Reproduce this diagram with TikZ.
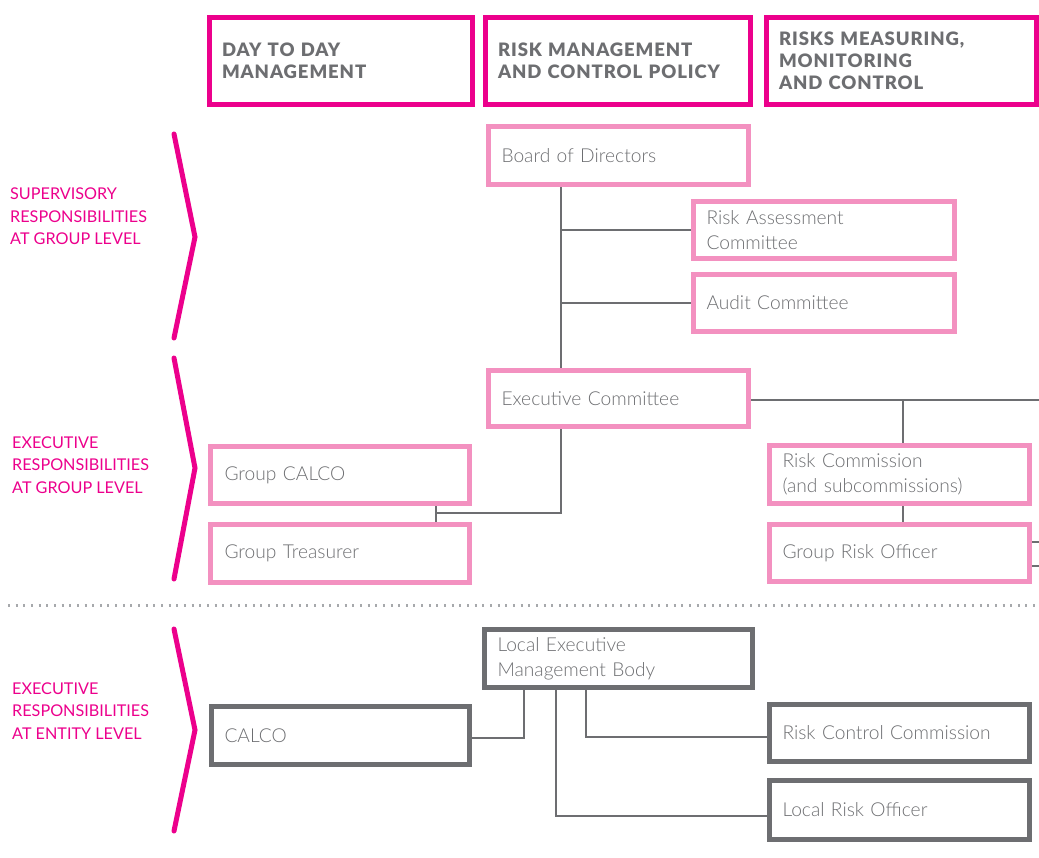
\documentclass[tikz,border=0pt]{standalone}
\usepackage{fontspec}
\setmainfont{Lato}
\newfontfamily\lightf{Lato Light}
\newfontfamily\hdrf{Lato Black}[LetterSpace=5]
\definecolor{mag}{HTML}{EC008C}
\definecolor{pinkc}{HTML}{F391C0}
\definecolor{grayc}{HTML}{6D6E71}
\definecolor{dotc}{HTML}{A7A9AC}
\tikzset{
  hdrbox/.style={draw=mag, line width=5pt, minimum height=87pt, inner xsep=12.5pt,
    align=left, text=grayc, font=\hdrf\fontsize{18.5}{22}\selectfont},
  pbox/.style={draw=pinkc, line width=5pt, inner xsep=13pt, align=left, text=grayc,
    font=\lightf\fontsize{19.2}{25}\selectfont},
  gbox/.style={draw=grayc, line width=5pt, inner xsep=13pt, align=left, text=grayc,
    font=\lightf\fontsize{19.2}{25}\selectfont},
  lvl/.style={anchor=west, align=left, text=mag, inner sep=0pt,
    font=\fontsize{16.2}{22.5}\selectfont},
  chev/.style={draw=mag, line width=5pt, line cap=round},
  conn/.style={draw=grayc, line width=2.5pt},
  connthin/.style={draw=grayc, line width=1.8pt},
}
\begin{document}
\begin{tikzpicture}[x=1pt,y=-1pt]
\useasboundingbox (0,0) rectangle (1039,857);
% headers
\node[hdrbox, minimum width=263pt, text width=238pt] (h1) at (341,61) {DAY TO DAY\\MANAGEMENT};
\node[hdrbox, minimum width=265pt, text width=240pt] (h2) at (618,61) {RISK MANAGEMENT\\AND CONTROL POLICY};
\node[hdrbox, minimum width=270pt, text width=245pt] (h3) at (901.5,61) {RISKS MEASURING,\\MONITORING\\AND CONTROL};
% level labels
\node[lvl] (l1) at (10,216.5) {SUPERVISORY\\RESPONSIBILITIES\\AT GROUP LEVEL};
\node[lvl] (l2) at (12,465) {EXECUTIVE\\RESPONSIBILITIES\\AT GROUP LEVEL};
\node[lvl] (l3) at (12,711) {EXECUTIVE\\RESPONSIBILITIES\\AT ENTITY LEVEL};
% chevrons
\draw[chev] (174,134) -- (195,237) -- (174,338);
\draw[chev] (174,358) -- (195,468) -- (174,579);
\draw[chev] (174,629) -- (195,730) -- (174,831);
% pink boxes
\node[pbox, minimum width=260pt, minimum height=58pt, text width=234pt] (board) at (618.5,155.5) {Board of Directors};
\node[pbox, minimum width=261pt, minimum height=57pt, text width=235pt] (rac) at (824,230) {Risk Assessment\\Committee};
\node[pbox, minimum width=261pt, minimum height=57pt, text width=235pt] (audit) at (824,303) {Audit Committee};
\node[pbox, minimum width=260pt, minimum height=56pt, text width=234pt] (exec) at (618.5,398.5) {Executive Committee};
\node[pbox, minimum width=259pt, minimum height=57pt, text width=231pt] (gcalco) at (340,475) {Group CALCO};
\node[pbox, minimum width=259pt, minimum height=58pt, text width=231pt] (gtreas) at (340,553.5) {Group Treasurer};
\node[pbox, minimum width=260pt, minimum height=58pt, text width=234pt] (rc) at (899.5,474.5) {Risk Commission\\(and subcommissions)};
\node[pbox, minimum width=260pt, minimum height=57pt, text width=234pt] (gro) at (899.5,553) {Group Risk Officer};
% gray boxes
\node[gbox, minimum width=260pt, minimum height=58pt, text width=242pt] (lemb) at (618.5,658.5) {Local Executive\\Management Body};
\node[gbox, minimum width=258pt, minimum height=58pt, text width=232pt] (calco) at (340.5,735.5) {CALCO};
\node[gbox, minimum width=260pt, minimum height=57pt, text width=234pt] (rcc) at (899.5,733) {Risk Control Commission};
\node[gbox, minimum width=260pt, minimum height=59pt, text width=234pt] (lro) at (899.5,810) {Local Risk Officer};
% connector helper coordinates
\coordinate (xa) at (561,0);
\coordinate (xb) at (903,0);
\coordinate (xc) at (436,513);
\coordinate (xd) at (524,738);
\coordinate (xe) at (556,816);
\coordinate (xf) at (586,737);
\coordinate (rend1) at (1039,400);
\coordinate (rend2) at (1039,542);
\coordinate (rend3) at (1039,566);
% upper connectors
\draw[conn] (xa |- board.south) -- (xa |- exec.north);
\draw[conn] (xa |- rac.west) -- (rac.west);
\draw[conn] (xa |- audit.west) -- (audit.west);
\draw[conn] (exec.east |- rend1) -- (rend1);
\draw[conn] (xb |- rend1) -- (xb |- rc.north);
\draw[conn] (xb |- rc.south) -- (xb |- gro.north);
\draw[conn] (gro.east |- rend2) -- (rend2);
\draw[conn] (gro.east |- rend3) -- (rend3);
\draw[conn] (xa |- exec.south) |- (xc);
\draw[conn] (xc |- gcalco.south) -- (xc |- gtreas.north);
% dotted separator
\coordinate (dl) at (8,605);
\coordinate (dr) at (1039,605);
\draw[dotc, line width=3pt, dash pattern=on 2pt off 5.65pt] (dl) -- (dr);
% lower connectors
\draw[connthin] (xd |- lemb.south) |- (calco.east |- xd);
\draw[connthin] (xf |- lemb.south) |- (rcc.west |- xf);
\draw[connthin] (xe |- lemb.south) |- (lro.west |- xe);
\end{tikzpicture}
\end{document}
